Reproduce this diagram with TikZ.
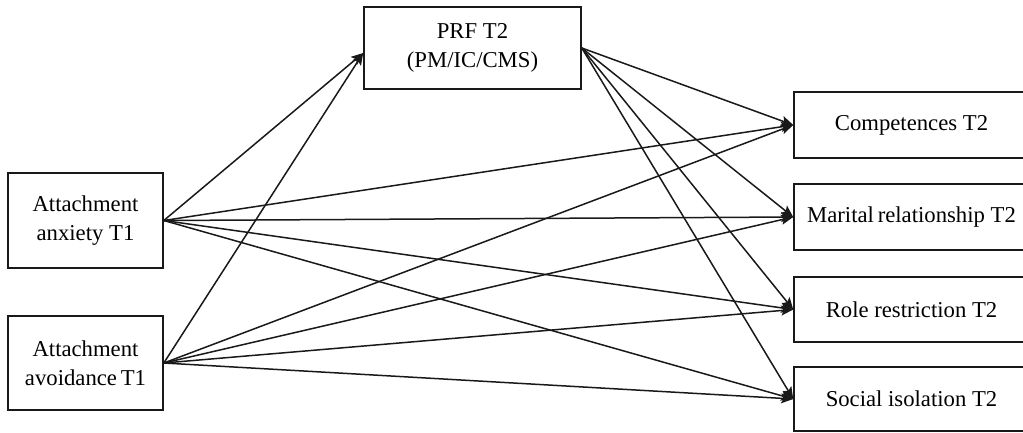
\documentclass[tikz,border=0pt]{standalone}
\usepackage{fontspec}
\setmainfont{Liberation Serif}
\usetikzlibrary{arrows.meta,calc}
\begin{document}
\begin{tikzpicture}[x=1pt,y=-1pt,
  box/.style={draw=black!90,line width=1.6pt,rectangle,inner sep=0pt,align=center,
    font=\fontsize{22.7}{29.5}\selectfont},
  link/.style={draw=black!90,line width=1.5pt,-{Stealth[length=12pt,width=10pt,inset=2.5pt]}}]
\useasboundingbox (0,0) rectangle (1023,432);
\clip (0,0) rectangle (1023,432);
\node[box,minimum width=155pt,minimum height=95pt] (anx) at (85.5,220.5) {Attachment\\anxiety T1};
\node[box,minimum width=155pt,minimum height=94pt] (avo) at (85.5,363) {Attachment\\avoidance\,T1};
\node[box,minimum width=217pt,minimum height=82pt] (prf) at (472.5,48) {PRF T2\\(PM/IC/CMS)};
\node[box,minimum width=235pt,minimum height=66pt] (comp) at (911.5,125) {Competences T2};
\node[box,minimum width=235pt,minimum height=66pt] (mar) at (911.5,217) {Marital\,relationship T2};
\node[box,minimum width=235pt,minimum height=65pt] (role) at (911.5,309.5) {Role restriction T2};
\node[box,minimum width=235pt,minimum height=64pt] (soc) at (911.5,399) {Social isolation T2};
\coordinate (prfin) at ($(prf.west)+(0,5)$);
\path[link] (anx.east) -- (prfin);
\path[link] (avo.east) -- (prfin);
\foreach \t in {comp,mar,role,soc}{
  \path[link] (prf.east) -- (\t.west);
  \path[link] (anx.east) -- (\t.west);
  \path[link] (avo.east) -- (\t.west);
}
\end{tikzpicture}
\end{document}
